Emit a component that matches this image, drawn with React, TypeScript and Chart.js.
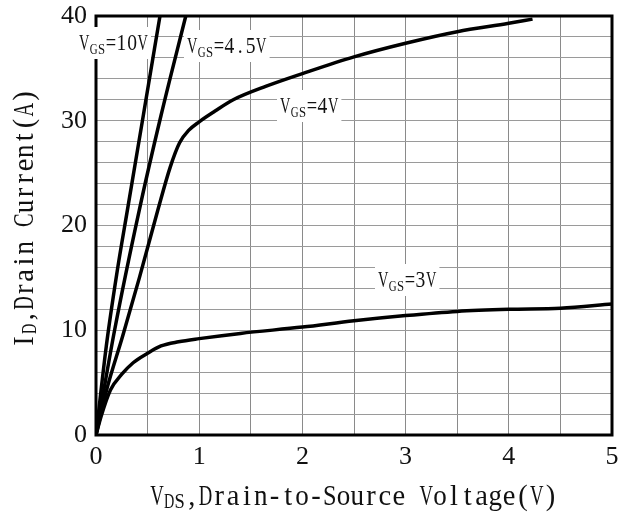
import { useEffect, useRef } from "react";
import { Chart, registerables } from "chart.js";

Chart.register(...registerables);

// ---- data ----
const vds10V = [0, 0.1, 0.2, 0.31, 0.46, 0.62];
const id10V = [0, 8.5, 15.3, 21.8, 30.6, 40];

const vds45V = [0, 0.18, 0.42, 0.63, 0.87];
const id45V = [0, 10, 21.5, 30.5, 40];

const vds4V = [0, 0.1, 0.26, 0.42, 0.6, 0.72, 0.81, 0.9, 1.0, 1.15, 1.33, 1.65, 2.0, 2.5, 3.0, 3.5, 4.0, 4.23];
const id4V = [0, 4.2, 9.5, 15, 21.5, 25.6, 27.9, 29.1, 29.9, 30.9, 32, 33.3, 34.5, 36.1, 37.4, 38.5, 39.3, 39.7];

const vds3V = [0, 0.05, 0.14, 0.25, 0.36, 0.5, 0.63, 0.8, 1.0, 1.4, 2.0, 2.5, 3.0, 3.5, 4.0, 4.5, 5.0];
const id3V = [0, 1.8, 4.3, 5.8, 6.9, 7.8, 8.5, 8.9, 9.2, 9.7, 10.3, 10.9, 11.4, 11.8, 12.0, 12.1, 12.5];

const seriesLabels = ["10V", "4.5V", "4V", "3V"];
const xTickLabels = [0, 1, 2, 3, 4, 5];
const yTickLabels = [0, 10, 20, 30, 40];

// ---- layout (pixel positions of annotations) ----
const labelAnchors = [
  { x: 79, y: 50 },
  { x: 187, y: 53 },
  { x: 280, y: 113 },
  { x: 378, y: 287 },
];

const FAMILY = "'Liberation Serif', 'DejaVu Serif', serif";

type Part = { t: string; sub?: boolean };

function drawMono(
  ctx: CanvasRenderingContext2D,
  parts: Part[],
  x: number,
  y: number,
  adv: number,
  subAdv: number,
  size: number,
  subSize: number,
  subDy: number,
  squeeze: number,
  draw = true
): number {
  let cx = x;
  for (const p of parts) {
    const fs = p.sub ? subSize : size;
    const a = p.sub ? subAdv : adv;
    const dy = p.sub ? subDy : 0;
    ctx.font = `${fs}px ${FAMILY}`;
    for (const ch of p.t) {
      if (draw) {
        const w = ctx.measureText(ch).width;
        let sx = squeeze;
        if (w * sx > a * 0.98) sx = (a * 0.98) / w;
        ctx.save();
        ctx.translate(cx + a / 2, y + dy);
        ctx.scale(sx, 1);
        ctx.textAlign = "center";
        ctx.textBaseline = "alphabetic";
        ctx.fillText(ch, 0, 0);
        ctx.restore();
      }
      cx += a;
    }
  }
  return cx - x;
}

const overlayPlugin = {
  id: "overlay",
  beforeDatasetsDraw(chart: any) {
    const { ctx, chartArea } = chart;
    ctx.save();
    ctx.strokeStyle = "#000";
    ctx.lineWidth = 3;
    ctx.strokeRect(chartArea.left, chartArea.top, chartArea.right - chartArea.left, chartArea.bottom - chartArea.top);
    ctx.restore();
  },
  afterDatasetsDraw(chart: any) {
    const { ctx } = chart;
    ctx.save();
    ctx.fillStyle = "#000";
    seriesLabels.forEach((lab, i) => {
      const a = labelAnchors[i];
      const parts: Part[] = [{ t: "V" }, { t: "GS", sub: true }, { t: "=" + lab }];
      const w = drawMono(ctx, parts, a.x, a.y, 10.6, 8, 23, 15, 3.5, 0.85, false);
      ctx.fillStyle = "#fff";
      ctx.fillRect(a.x - 3, a.y - 23, w + 6, 32);
      ctx.fillStyle = "#111";
      drawMono(ctx, parts, a.x, a.y, 10.6, 8, 23, 15, 3.5, 0.85);
    });

    ctx.fillStyle = "#111";
    // x axis title
    drawMono(
      ctx,
      [{ t: "V" }, { t: "DS", sub: true }, { t: ",Drain-to-Source Voltage(V)" }],
      150, 505, 13.8, 10.5, 30, 21, 3, 0.95
    );

    // y axis title (rotated)
    ctx.save();
    ctx.translate(33, 348);
    ctx.rotate(-Math.PI / 2);
    drawMono(
      ctx,
      [{ t: "I" }, { t: "D", sub: true }, { t: ",Drain Current(A)" }],
      0, 0, 13.8, 10.5, 30, 21, 3, 0.95
    );
    ctx.restore();
    ctx.restore();
  },
};

const zeroPad = (s: any) => {
  s.paddingTop = 0;
  s.paddingBottom = 0;
  s.paddingLeft = 0;
  s.paddingRight = 0;
};

export default function App() {
  const ref = useRef<HTMLCanvasElement | null>(null);

  useEffect(() => {
    if (!ref.current) return;
    const series = [
      { x: vds10V, y: id10V },
      { x: vds45V, y: id45V },
      { x: vds4V, y: id4V },
      { x: vds3V, y: id3V },
    ];
    const chart = new Chart(ref.current, {
      type: "scatter",
      data: {
        datasets: series.map((s, i) => ({
          label: seriesLabels[i],
          data: s.x.map((x, j) => ({ x, y: s.y[j] })),
          showLine: true,
          borderColor: "#000",
          backgroundColor: "#000",
          borderWidth: 3.5,
          pointRadius: 0,
          fill: false,
          cubicInterpolationMode: "monotone",
        })),
      },
      options: {
        animation: false,
        responsive: false,
        devicePixelRatio: 1,
        layout: { padding: { top: 16, right: 6, left: 0, bottom: 0 } },
        plugins: { legend: { display: false }, tooltip: { enabled: false } },
        scales: {
          x: {
            type: "linear",
            min: 0,
            max: 5,
            afterFit: (s: any) => {
              s.height = 81;
              zeroPad(s);
            },
            border: { display: false },
            grid: { color: "#8a8a8a", lineWidth: 1, drawTicks: false },
            ticks: {
              stepSize: 0.5,
              autoSkip: false,
              maxRotation: 0,
              padding: 7,
              color: "#111",
              font: { family: FAMILY, size: 26 },
              callback: (v: any) => (xTickLabels.includes(Number(v)) ? String(v) : ""),
            },
          },
          y: {
            type: "linear",
            min: 0,
            max: 40,
            afterFit: (s: any) => {
              s.width = 96;
              zeroPad(s);
            },
            border: { display: false },
            grid: { color: "#9a9a9a", lineWidth: 1, drawTicks: false },
            ticks: {
              stepSize: 2,
              autoSkip: false,
              padding: 9,
              color: "#111",
              font: { family: FAMILY, size: 26 },
              callback: (v: any) => (yTickLabels.includes(Number(v)) ? String(v) : ""),
            },
          },
        },
      },
      plugins: [overlayPlugin],
    } as any);
    return () => chart.destroy();
  }, []);

  return (
    <div style={{ position: "fixed", left: 0, top: 0, width: 618, height: 516, background: "#fff" }}>
      <canvas ref={ref} width={618} height={516} style={{ display: "block", width: 618, height: 516 }} />
    </div>
  );
}
